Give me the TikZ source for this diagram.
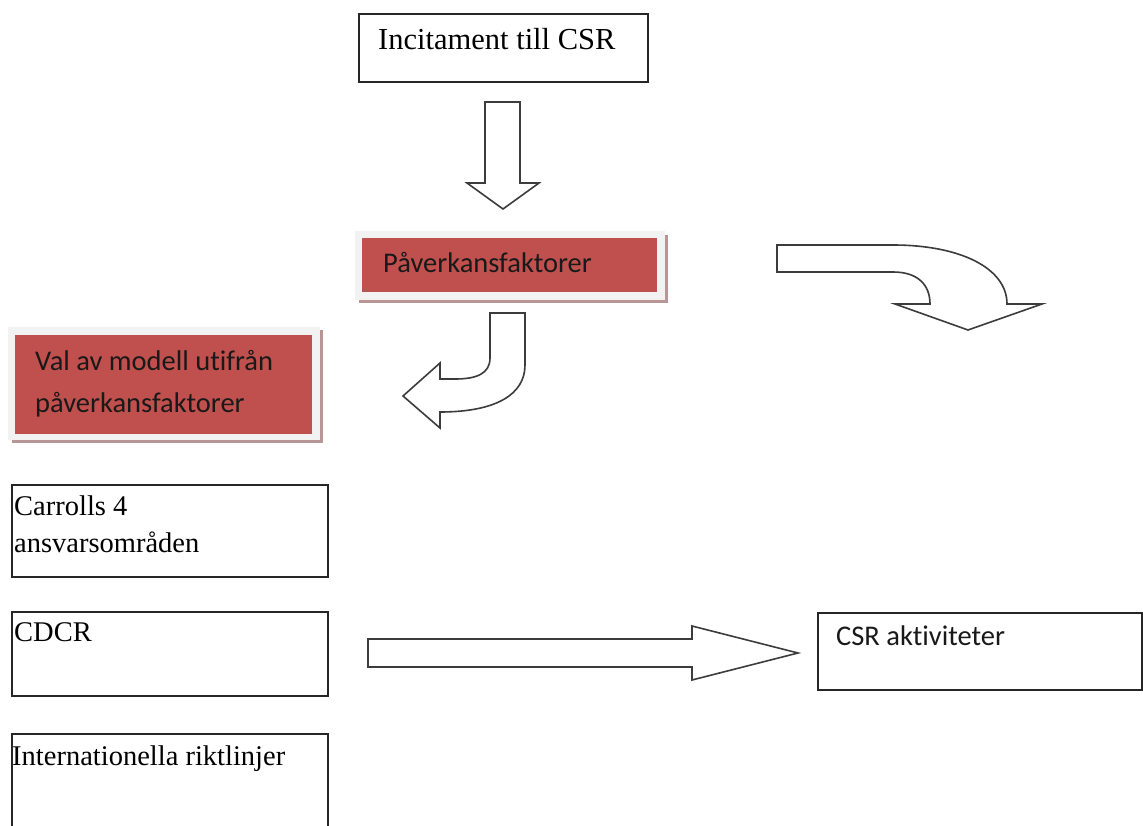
\documentclass[tikz,border=0pt]{standalone}
\usepackage{fontspec}
\setmainfont{Liberation Serif}
\newfontfamily\calfont[Ligatures=NoCommon]{Carlito}
\definecolor{redfill}{RGB}{192,80,77}
\definecolor{framegray}{RGB}{242,242,242}
\definecolor{shadowc}{RGB}{185,150,150}
\definecolor{arrowline}{RGB}{60,60,60}
\begin{document}
\begin{tikzpicture}[x=1pt,y=-1pt,
  plainbox/.style={draw=black!85,line width=1.5pt,fill=white},
  seriftext/.style={anchor=base west,inner sep=0pt,font=\fontsize{28.5}{34}\selectfont},
  caltext/.style={anchor=base west,inner sep=0pt,text=black!90,font=\calfont\fontsize{28.5}{34}\selectfont},
  blockarrow/.style={draw=arrowline,line width=1.6pt,fill=white,line join=miter}]
\clip (0,0) rectangle (1143,826);
\fill[white] (0,0) rectangle (1143,826);

% Incitament box
\draw[plainbox,line width=1.8pt] (359,14) rectangle (648,82);
\node[anchor=base west,inner sep=0pt,font=\fontsize{30.5}{36}\selectfont] (inc) at (378,50) {Incitament till CSR};

% down arrow
\draw[blockarrow] (485,102) -- (520,102) -- (520,183) -- (539,183) -- (503,209) -- (467,183) -- (485,183) -- cycle;

% Påverkansfaktorer box
\fill[shadowc] (359,235) rectangle (668,303);
\fill[framegray] (355,231) rectangle (665,300);
\fill[redfill] (362,238) rectangle (657,292);
\node[caltext] (pav) at (383,273) {Påverkansfaktorer};

% right curved arrow
\draw[blockarrow] (777,245) -- (893,245) .. controls (960,245) and (1007,268) .. (1007,304)
  -- (1042,304) -- (968,330) -- (895,304) -- (930,304)
  .. controls (930,285) and (918,272) .. (893,272) -- (777,272) -- cycle;

% Val av modell box
\fill[shadowc] (12,330) rectangle (323,443);
\fill[framegray] (8,327) rectangle (320,440);
\fill[redfill] (15,335) rectangle (312,434);
\node[caltext] (val1) at (35,370) {Val av modell utifrån};
\node[caltext] (val2) at (35,412) {påverkansfaktorer};

% left curved arrow
\draw[blockarrow] (490,313) -- (490,358) .. controls (490,374) and (476,379) .. (455,379)
  -- (440,379) -- (440,363) -- (403,396) -- (440,428) -- (440,412)
  .. controls (495,412) and (525,395) .. (525,365) -- (525,313) -- cycle;

% Carrolls box
\draw[plainbox] (12,485) rectangle (328,577);
\node[seriftext] (car1) at (14,515) {Carrolls 4};
\node[seriftext] (car2) at (14,552) {ansvarsområden};

% CDCR box
\draw[plainbox] (12,612) rectangle (328,696);
\node[seriftext] (cdcr) at (14,641) {CDCR};

% Internationella box
\draw[plainbox] (12,734) rectangle (328,840);
\node[seriftext] (intl) at (12,765) {Internationella riktlinjer};

% straight right arrow
\draw[blockarrow] (368,639) -- (692,639) -- (692,626) -- (798,653) -- (692,680) -- (692,667) -- (368,667) -- cycle;

% CSR aktiviteter box
\draw[plainbox] (818,613) rectangle (1142,690);
\node[caltext] (csr) at (836,645) {CSR aktiviteter};
\end{tikzpicture}
\end{document}
